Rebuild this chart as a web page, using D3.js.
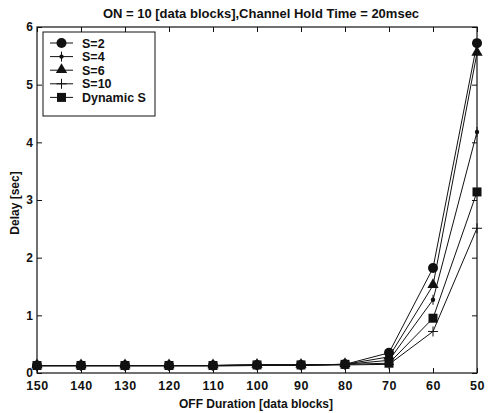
<!DOCTYPE html>
<html>
<head>
<meta charset="utf-8">
<script src="https://cdn.jsdelivr.net/npm/d3@7"></script>
<style>
body { margin: 0; background: #fff; }
text { font-family: "Liberation Sans", Arial, sans-serif; font-weight: bold; fill: #111; }
</style>
</head>
<body>
<svg width="488" height="413"></svg>
<script>
var offDuration = [150, 140, 130, 120, 110, 100, 90, 80, 70, 60, 50];
var s2  = [0.13, 0.13, 0.13, 0.13, 0.13, 0.14, 0.14, 0.15, 0.35, 1.82, 5.72];
var s4  = [0.13, 0.13, 0.13, 0.13, 0.13, 0.14, 0.14, 0.15, 0.22, 1.27, 4.18];
var s6  = [0.13, 0.13, 0.13, 0.13, 0.13, 0.14, 0.14, 0.15, 0.28, 1.52, 5.55];
var s10 = [0.12, 0.12, 0.12, 0.12, 0.12, 0.13, 0.13, 0.14, 0.15, 0.72, 2.51];
var sDyn = [0.13, 0.13, 0.13, 0.13, 0.13, 0.14, 0.14, 0.15, 0.17, 0.95, 3.14];
var seriesNames = ["S=2", "S=4", "S=6", "S=10", "Dynamic S"];
var seriesMarks = ["circle", "dot", "triangle", "plus", "square"];
var yTicks = [0, 1, 2, 3, 4, 5, 6];

var svg = d3.select("svg"),
    pLeft = 37, pRight = 477, pTop = 27, pBottom = 373;

var xScale = d3.scaleLinear().domain([150, 50]).range([pLeft, pRight]),
    yScale = d3.scaleLinear().domain([0, 6]).range([pBottom, pTop]);

var allSeries = [s2, s4, s6, s10, sDyn];

// frame
svg.append("rect")
  .attr("x", pLeft).attr("y", pTop)
  .attr("width", pRight - pLeft).attr("height", pBottom - pTop)
  .attr("fill", "none").attr("stroke", "#111").attr("stroke-width", 1.2);

// axes with inward ticks
svg.append("g")
  .attr("transform", "translate(0," + pBottom + ")")
  .call(d3.axisBottom(xScale).tickValues(offDuration).tickSize(-5).tickPadding(8).tickFormat(d3.format("d")))
  .call(function(g){ g.select(".domain").remove() })
  .selectAll("text").attr("font-size", "12.5px").attr("letter-spacing", "0.6px")
  .style("font-family", "Liberation Sans, Arial, sans-serif");

svg.append("g")
  .attr("transform", "translate(0," + pTop + ")")
  .call(d3.axisTop(xScale).tickValues(offDuration).tickSize(-5).tickFormat(""))
  .call(function(g){ g.select(".domain").remove() });

svg.append("g")
  .attr("transform", "translate(" + pLeft + ",0)")
  .call(d3.axisLeft(yScale).tickValues(yTicks).tickSize(-5).tickPadding(4).tickFormat(d3.format("d")))
  .call(function(g){ g.select(".domain").remove() })
  .selectAll("text").attr("font-size", "12px").style("font-family", "Liberation Sans, Arial, sans-serif");

svg.append("g")
  .attr("transform", "translate(" + pRight + ",0)")
  .call(d3.axisRight(yScale).tickValues(yTicks).tickSize(-5).tickFormat(""))
  .call(function(g){ g.select(".domain").remove() });

svg.selectAll(".tick line").attr("stroke", "#111");
svg.selectAll(".tick text").attr("fill", "#111").attr("font-weight", "bold");

function drawMark(g, type, x, y) {
  if (type == "circle") {
    g.append("circle").attr("cx", x).attr("cy", y).attr("r", 5).attr("fill", "#111");
  } else if (type == "dot") {
    g.append("circle").attr("cx", x).attr("cy", y).attr("r", 2.2).attr("fill", "#111");
    g.append("path").attr("d", "M" + x + "," + (y - 5) + "V" + (y + 5)).attr("stroke", "#111");
  } else if (type == "triangle") {
    g.append("path").attr("d", d3.symbol().type(d3.symbolTriangle).size(55)()).attr("transform", "translate(" + x + "," + (y - 0.5) + ")").attr("fill", "#111");
  } else if (type == "plus") {
    g.append("path").attr("d", "M" + (x - 5) + "," + y + "H" + (x + 5) + "M" + x + "," + (y - 5) + "V" + (y + 5)).attr("stroke", "#111").attr("stroke-width", 1);
  } else {
    g.append("rect").attr("x", x - 4.5).attr("y", y - 4.5).attr("width", 9).attr("height", 9).attr("fill", "#111");
  }
}

var line = d3.line()
  .x(function(d, i){ return xScale(offDuration[i]) })
  .y(function(d){ return yScale(d) });

allSeries.forEach(function(vals, k){
  var g = svg.append("g");
  g.append("path").datum(vals).attr("d", line)
    .attr("fill", "none").attr("stroke", "#111").attr("stroke-width", 1);
  vals.forEach(function(v, i){
    drawMark(g, seriesMarks[k], xScale(offDuration[i]), yScale(v));
  });
});

// legend
var lg = svg.append("g");
lg.append("rect").attr("x", 43).attr("y", 32).attr("width", 112).attr("height", 84)
  .attr("fill", "#fff").attr("stroke", "#111").attr("stroke-width", 1);
seriesNames.forEach(function(name, k){
  var y = 43 + k * 13.6;
  lg.append("line").attr("x1", 50).attr("x2", 73).attr("y1", y).attr("y2", y).attr("stroke", "#111");
  drawMark(lg, seriesMarks[k], 61.5, y);
  lg.append("text").attr("x", 82).attr("y", y + 4.5).attr("font-size", "12.5px").text(name);
});

// titles
svg.append("text").attr("x", 261).attr("y", 18).attr("text-anchor", "middle")
  .attr("font-size", "13px").text("ON = 10 [data blocks],Channel Hold Time = 20msec");
svg.append("text").attr("x", 256).attr("y", 408).attr("text-anchor", "middle")
  .attr("font-size", "12px").text("OFF Duration [data blocks]");
svg.append("text").attr("transform", "translate(19,203) rotate(-90)").attr("text-anchor", "middle")
  .attr("font-size", "12px").text("Delay [sec]");
</script>
</body>
</html>
